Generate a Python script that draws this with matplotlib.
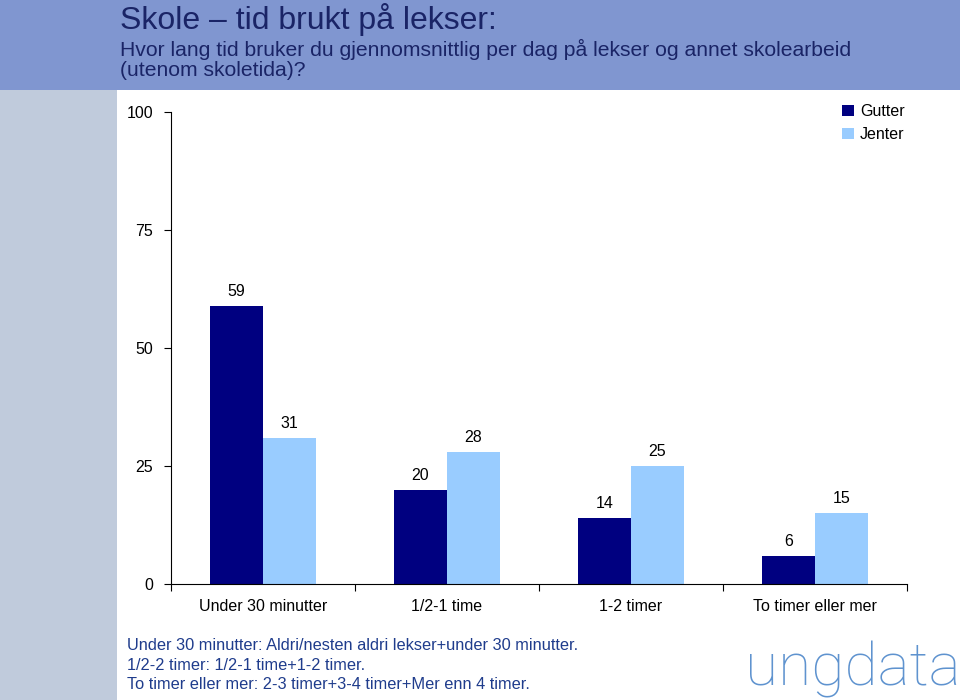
import matplotlib
matplotlib.use("Agg")
import matplotlib.pyplot as plt
from matplotlib.patches import Rectangle
import numpy as np

plt.rcParams['font.family'] = ['Liberation Sans', 'DejaVu Sans']

categories = ["Under 30 minutter", "1/2-1 time", "1-2 timer", "To timer eller mer"]
gutter = [59, 20, 14, 6]
jenter = [31, 28, 25, 15]
series_names = ["Gutter", "Jenter"]
yticks = [0, 25, 50, 75, 100]

title = "Skole \u2013 tid brukt på lekser:"
subtitle1 = "Hvor lang tid bruker du gjennomsnittlig per dag på lekser og annet skolearbeid"
subtitle2 = "(utenom skoletida)?"
notes = ["Under 30 minutter: Aldri/nesten aldri lekser+under 30 minutter.",
         "1/2-2 timer: 1/2-1 time+1-2 timer.",
         "To timer eller mer: 2-3 timer+3-4 timer+Mer enn 4 timer."]

W, H = 960, 700
fig = plt.figure(figsize=(9.6, 7.0), dpi=100)
fig.patch.set_facecolor("white")

# header band and left strip
fig.patches.append(Rectangle((0, 1 - 90 / H), 1, 90 / H, transform=fig.transFigure,
                             facecolor="#8096d0", edgecolor="none", zorder=0))
fig.patches.append(Rectangle((0, 0), 117 / W, 1 - 90 / H, transform=fig.transFigure,
                             facecolor="#c0cbdc", edgecolor="none", zorder=0))

fig.text(120 / W, 1 - 29 / H, title, fontsize=23, color="#1a2466", va="baseline")
fig.text(120 / W, 1 - 56 / H, subtitle1, fontsize=15.2, color="#1a2466", va="baseline")
fig.text(120 / W, 1 - 76 / H, subtitle2, fontsize=15.2, color="#1a2466", va="baseline")

ax = fig.add_axes([171 / W, 1 - 584 / H, (907 - 171) / W, (584 - 112) / H])
x = np.arange(len(categories))
bw = 0.288
b1 = ax.bar(x - bw / 2, gutter, bw, color="#000080", label=series_names[0])
b2 = ax.bar(x + bw / 2, jenter, bw, color="#99ccff", label=series_names[1])
for bars, vals in ((b1, gutter), (b2, jenter)):
    for r, v in zip(bars, vals):
        ax.annotate(str(v), (r.get_x() + r.get_width() / 2, v), xytext=(0, 5),
                    textcoords="offset points", ha="center", va="bottom", fontsize=11.5)

ax.set_xlim(-0.5, len(categories) - 0.5)
ax.set_ylim(0, 100)
ax.set_yticks(yticks)
ax.set_yticklabels([str(t) for t in yticks], fontsize=11.5)
ax.set_xticks(x)
ax.set_xticklabels(categories, fontsize=11.5)
ax.tick_params(axis="x", length=0, pad=11)
ax.set_xticks(np.arange(-0.5, len(categories), 1.0), minor=True)
ax.tick_params(axis="x", which="minor", length=5, direction="out", width=0.8)
ax.tick_params(axis="y", length=5, direction="out", width=0.8, pad=8)
for s in ("top", "right"):
    ax.spines[s].set_visible(False)
for s in ("left", "bottom"):
    ax.spines[s].set_linewidth(0.8)
ax.set_facecolor("none")

leg = ax.legend(loc="upper left", bbox_to_anchor=((836 - 171) / (907 - 171), 1.03),
                frameon=False, fontsize=11.5, handlelength=0.7, handleheight=0.7,
                handletextpad=0.4, labelspacing=0.5, borderaxespad=0)

for i, n in enumerate(notes):
    fig.text(127 / W, 1 - (650 + i * 19.5) / H, n, fontsize=11.8, color="#1f3c8c",
             va="baseline")

fig.text(745 / W, 1 - 686 / H, "ungdata", fontsize=43.5, color="#5f93cf",
         family=["Roboto", "DejaVu Sans"], fontweight="light", va="baseline")

fig.savefig("out.png", dpi=100, facecolor=fig.get_facecolor())
